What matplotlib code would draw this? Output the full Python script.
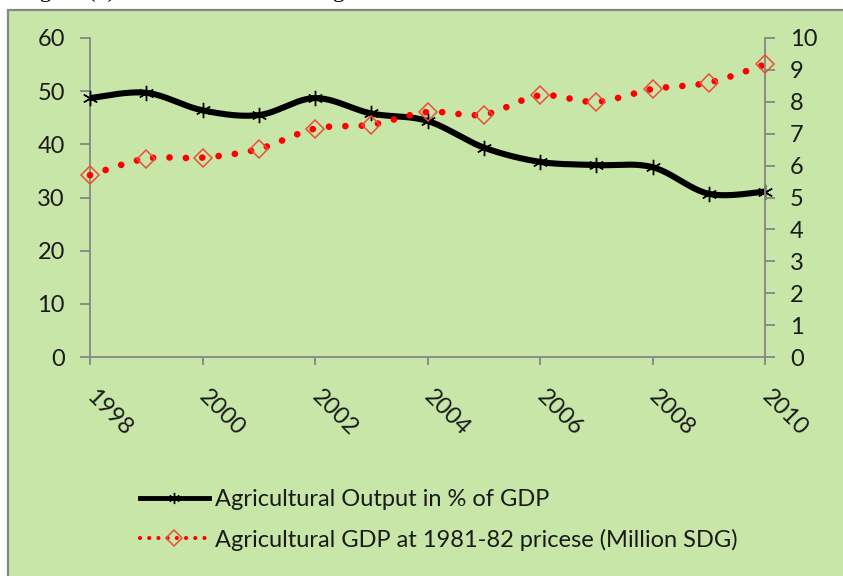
import numpy as np
import matplotlib
matplotlib.use('Agg')
import matplotlib.pyplot as plt
from matplotlib.lines import Line2D
from matplotlib.patches import Rectangle

# data
years = [1998, 1999, 2000, 2001, 2002, 2003, 2004, 2005, 2006, 2007, 2008, 2009, 2010]
ag_share_pct = [48.7, 49.7, 46.4, 45.5, 48.7, 45.8, 44.4, 39.4, 36.7, 36.1, 35.7, 30.7, 31.1]
ag_gdp_const = [5.70, 6.22, 6.25, 6.52, 7.16, 7.28, 7.68, 7.60, 8.20, 8.00, 8.40, 8.60, 9.17]
xtick_years = [1998, 2000, 2002, 2004, 2006, 2008, 2010]
label_share = 'Agricultural Output in % of GDP'
label_gdp = 'Agricultural GDP at 1981-82 pricese (Million SDG)'
caption = 'Figure (1): Trend in GDP from Agricultural in Sudan'

BG = '#C9E6A9'
AXC = '#868686'
FONT = 'Lato'
FS = 17

plt.rcParams['font.family'] = [FONT, 'DejaVu Sans']


def smooth(x, y, n=24):
    """Excel-like smoothed line: cubic Bezier through points (Catmull-Rom)."""
    p = np.column_stack([np.asarray(x, float), np.asarray(y, float)])
    p = np.vstack([p[0], p, p[-1]])
    segs = []
    t = np.linspace(0, 1, n)[:, None]
    for i in range(1, len(p) - 2):
        p0, p1, p2, p3 = p[i - 1], p[i], p[i + 1], p[i + 2]
        c1 = p1 + (p2 - p0) / 6
        c2 = p2 - (p3 - p1) / 6
        seg = (1 - t)**3 * p1 + 3 * (1 - t)**2 * t * c1 + 3 * (1 - t) * t**2 * c2 + t**3 * p2
        segs.append(seg if i == 1 else seg[1:])
    s = np.vstack(segs)
    return s[:, 0], s[:, 1]


fig = plt.figure(figsize=(8.43, 5.76), dpi=100, facecolor='white')
W, H = 843, 576

# green chart area with grey border (top-left cut like the screenshot)
fig.patches.append(Rectangle((8 / W, -0.01), 1.0, 1 - 9.5 / H + 0.01, transform=fig.transFigure,
                             facecolor=BG, edgecolor=AXC, linewidth=1.6, zorder=-5))
# caption of the page, mostly cut off by the top edge
fig.text(20 / W, 1 + 3 / H, caption, family='Liberation Serif', fontsize=17,
         va='baseline', ha='left', color='black')

ax = fig.add_axes([90 / W, 1 - 357 / H, 675 / W, 319 / H])
ax.patch.set_visible(False)
ax2 = ax.twinx()
ax2.patch.set_visible(False)

# black series: % of GDP
sx, sy = smooth(years, ag_share_pct)
ax.plot(sx, sy, color='black', linewidth=4.4, solid_capstyle='round', zorder=2)
ax.plot(years, ag_share_pct, linestyle='none', marker=(6, 2, 0), markersize=11,
        markeredgecolor='black', markeredgewidth=1.0, zorder=3, clip_on=False)

# red series: constant prices
rx, ry = smooth(years, ag_gdp_const)
ax2.plot(rx, ry, color='#FF0000', linewidth=4.8, linestyle=(0, (0.01, 2.45)),
         dash_capstyle='round', zorder=2, clip_on=False)
ax2.plot(years, ag_gdp_const, linestyle='none', marker='D', markersize=9,
         markerfacecolor='none', markeredgecolor='#E8503A', markeredgewidth=1.1,
         zorder=3, clip_on=False)

ax.set_xlim(1998, 2010)
ax.set_ylim(0, 60)
ax2.set_ylim(0, 10)
ax.set_yticks(range(0, 61, 10))
ax2.set_yticks(range(0, 11, 1))
ax.set_xticks(xtick_years)
ax.set_xticklabels([str(y) for y in xtick_years])

for a in (ax, ax2):
    for s in a.spines.values():
        s.set_visible(False)
ax.spines['left'].set_visible(True)
ax.spines['bottom'].set_visible(True)
ax2.spines['right'].set_visible(True)
for s in (ax.spines['left'], ax.spines['bottom'], ax2.spines['right']):
    s.set_color(AXC)
    s.set_linewidth(1.3)

ax.tick_params(axis='y', direction='out', length=7, width=1.3, color=AXC,
               labelsize=FS, pad=11, labelcolor='#1a1a1a')
ax2.tick_params(axis='y', direction='out', length=7, width=1.3, color=AXC,
                labelsize=FS, pad=11, labelcolor='#1a1a1a')
ax.tick_params(axis='x', direction='out', length=6, width=1.3, color=AXC,
               labelsize=FS, pad=20, labelcolor='#1a1a1a')
for lbl in ax.get_xticklabels():
    lbl.set_rotation(-45)
    lbl.set_ha('left')
    lbl.set_va('center')
    lbl.set_rotation_mode('anchor')

handles = [
    Line2D([], [], color='black', linewidth=3.5, marker=(6, 2, 0), markersize=8,
           markeredgecolor='black', markeredgewidth=1.0),
    Line2D([], [], color='#FF0000', linewidth=3.0, linestyle=(0, (0.01, 2.2)),
           dash_capstyle='round', marker='D', markersize=8, markerfacecolor='none',
           markeredgecolor='#E8503A', markeredgewidth=1.1),
]
fig.legend(handles, [label_share, label_gdp], loc='upper left',
           bbox_to_anchor=(119 / W, 1 - 468 / H), frameon=False, fontsize=FS,
           handlelength=2.9, handletextpad=0.25, labelspacing=0.78,
           labelcolor='#1a1a1a')

fig.savefig('out.png', dpi=100, facecolor='white')
